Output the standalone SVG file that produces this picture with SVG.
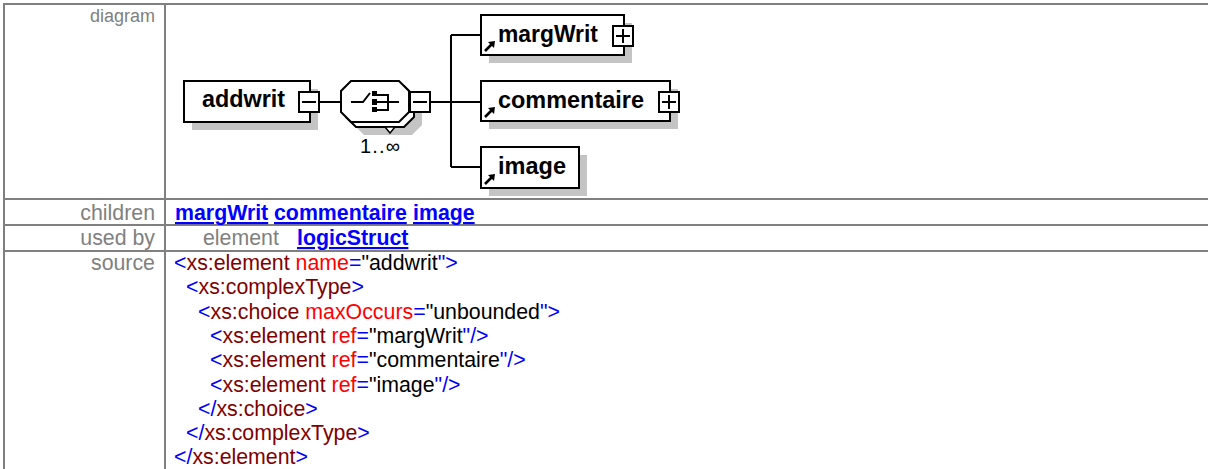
<svg xmlns="http://www.w3.org/2000/svg" xmlns:xlink="http://www.w3.org/1999/xlink" width="1208" height="469" viewBox="0 0 1208 469">
<style>
text{font-family:"Liberation Sans",Arial,sans-serif}
.lbl{font-size:21.33px;fill:#808080}
.lnk{font-size:21.33px;font-weight:bold;fill:#0000ff;text-decoration:underline}
.src{font-size:21.33px}
.b{fill:#0000ff}.t{fill:#800000}.a{fill:#ff0000}.v{fill:#000000}
.grid{fill:#808080}
.box{fill:#ffffff;stroke:#000000;stroke-width:2}
.shd{fill:#c4c4c4}
.nm{font-size:23px;font-weight:bold;fill:#000000}
.con{stroke:#000000;stroke-width:2;fill:none}
.ico{stroke:#000000;stroke-width:2;fill:none}
</style>
<defs>
<g id="arrow">
<path d="M0,0 L7,-7" stroke="#000" stroke-width="2.6" fill="none"/>
<polygon points="10,-10 3,-9 9,-3" fill="#000"/>
</g>
<g id="minus">
<rect x="0" y="0" width="20" height="20" class="box"/>
<path d="M3,10 H17" class="ico"/>
</g>
<g id="plus">
<rect x="0" y="0" width="20" height="20" class="box"/>
<path d="M3,10 H17 M10,3 V17" class="ico"/>
</g>
</defs>

<g id="table">
<rect x="3" y="3" width="1205" height="2" class="grid"/>
<rect x="3" y="3" width="2" height="466" class="grid"/>
<rect x="164" y="3" width="2" height="466" class="grid"/>
<rect x="3" y="198" width="1205" height="2" class="grid"/>
<rect x="3" y="224" width="1205" height="2" class="grid"/>
<rect x="3" y="250" width="1205" height="2" class="grid"/>
<text x="155" y="22" text-anchor="end" class="lbl" style="font-size:18px">diagram</text>
<text x="155" y="220" text-anchor="end" class="lbl">children</text>
<text x="155" y="245" text-anchor="end" class="lbl">used by</text>
<text x="155" y="270" text-anchor="end" class="lbl">source</text>
<text x="175" y="220" class="lnk">margWrit</text>
<text x="274" y="220" class="lnk">commentaire</text>
<text x="413" y="220" class="lnk">image</text>
<text x="203" y="245" class="lbl">element</text>
<text x="297" y="245" class="lnk">logicStruct</text>
</g>

<g id="source" class="src">
<text x="174" y="270"><tspan class="b">&lt;</tspan><tspan class="t">xs:element</tspan> <tspan class="a">name</tspan><tspan class="b">=</tspan><tspan class="v">"addwrit</tspan><tspan class="b">"&gt;</tspan></text>
<text x="186" y="294.3"><tspan class="b">&lt;</tspan><tspan class="t">xs:complexType</tspan><tspan class="b">&gt;</tspan></text>
<text x="198" y="318.6"><tspan class="b">&lt;</tspan><tspan class="t">xs:choice</tspan> <tspan class="a">maxOccurs</tspan><tspan class="b">=</tspan><tspan class="v">"unbounded</tspan><tspan class="b">"&gt;</tspan></text>
<text x="210" y="342.9"><tspan class="b">&lt;</tspan><tspan class="t">xs:element</tspan> <tspan class="a">ref</tspan><tspan class="b">=</tspan><tspan class="v">"margWrit</tspan><tspan class="b">"/&gt;</tspan></text>
<text x="210" y="367.2"><tspan class="b">&lt;</tspan><tspan class="t">xs:element</tspan> <tspan class="a">ref</tspan><tspan class="b">=</tspan><tspan class="v">"commentaire</tspan><tspan class="b">"/&gt;</tspan></text>
<text x="210" y="391.5"><tspan class="b">&lt;</tspan><tspan class="t">xs:element</tspan> <tspan class="a">ref</tspan><tspan class="b">=</tspan><tspan class="v">"image</tspan><tspan class="b">"/&gt;</tspan></text>
<text x="198" y="415.8"><tspan class="b">&lt;/</tspan><tspan class="t">xs:choice</tspan><tspan class="b">&gt;</tspan></text>
<text x="186" y="440.1"><tspan class="b">&lt;/</tspan><tspan class="t">xs:complexType</tspan><tspan class="b">&gt;</tspan></text>
<text x="174" y="464.2"><tspan class="b">&lt;/</tspan><tspan class="t">xs:element</tspan><tspan class="b">&gt;</tspan></text>
</g>

<g id="connectors">
<path d="M320,102 H341" class="con"/>
<path d="M430,102 H451" class="con"/>
<path d="M451,35 V167" class="con"/>
<path d="M451,35 H481 M451,102 H481 M451,167 H481" class="con"/>
</g>

<g id="node-addwrit">
<rect x="192" y="89" width="126" height="41" class="shd"/>
<rect x="184" y="81" width="126" height="41" class="box"/>
<text x="202" y="107" class="nm" textLength="83" lengthAdjust="spacingAndGlyphs">addwrit</text>
<use xlink:href="#minus" x="299" y="92"/>
</g>

<g id="node-choice">
<polygon points="364,94 412,94 422,104 422,125 412,135 364,135 354,125 354,104" class="shd"/>
<polygon points="356,86 404,86 414,96 414,117 404,127 356,127 346,117 346,96" class="box"/>
<polygon points="385,127 395,127 390,133" fill="#ffffff" stroke="#000" stroke-width="1.5"/>
<polygon points="351,81 399,81 409,91 409,112 399,122 351,122 341,112 341,91" class="box"/>
<path d="M351,102 H363 L370,93" class="ico"/>
<rect x="372" y="91" width="5" height="5" fill="#000"/>
<rect x="372" y="99" width="5" height="6" fill="#000"/>
<rect x="372" y="107" width="5" height="5" fill="#000"/>
<path d="M377,95 H388 V110 H377 M377,102 H399" class="ico"/>
<use xlink:href="#minus" x="410" y="92"/>
<text x="360" y="153" style="font-size:20px" fill="#000" textLength="40" lengthAdjust="spacing">1..∞</text>
</g>

<g id="node-margWrit">
<rect x="489" y="23" width="143" height="40" class="shd"/>
<rect x="481" y="15" width="143" height="40" class="box"/>
<text x="498" y="42" class="nm" textLength="100" lengthAdjust="spacingAndGlyphs">margWrit</text>
<use xlink:href="#arrow" x="485" y="51"/>
<use xlink:href="#plus" x="613" y="26"/>
</g>

<g id="node-commentaire">
<rect x="489" y="89" width="189" height="40" class="shd"/>
<rect x="481" y="81" width="189" height="40" class="box"/>
<text x="498" y="108" class="nm" textLength="146" lengthAdjust="spacingAndGlyphs">commentaire</text>
<use xlink:href="#arrow" x="485" y="117"/>
<use xlink:href="#plus" x="659" y="92"/>
</g>

<g id="node-image">
<rect x="489" y="155" width="98" height="41" class="shd"/>
<rect x="481" y="147" width="98" height="41" class="box"/>
<text x="498" y="174" class="nm" textLength="68" lengthAdjust="spacingAndGlyphs">image</text>
<use xlink:href="#arrow" x="485" y="184"/>
</g>
</svg>
